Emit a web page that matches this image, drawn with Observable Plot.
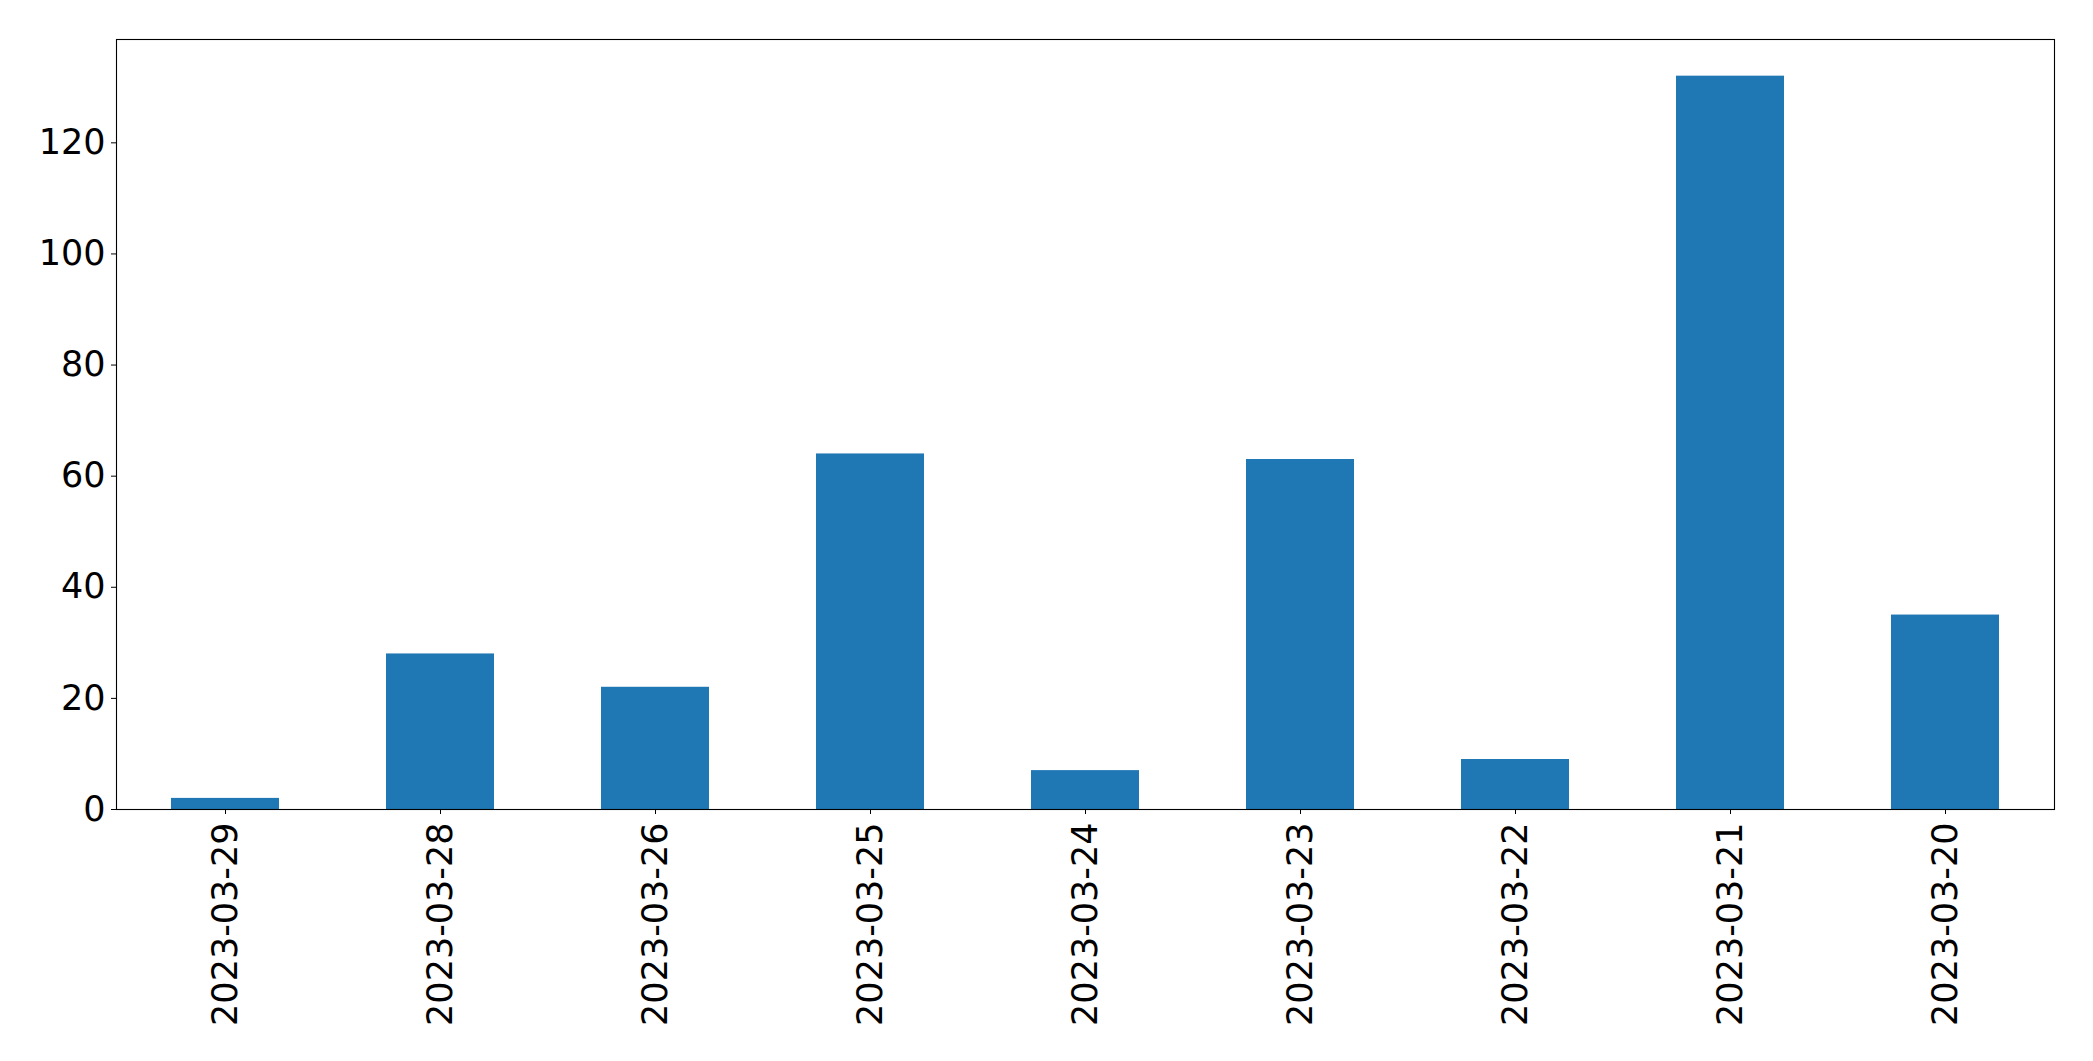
<!DOCTYPE html>
<html>
<head>
<meta charset="utf-8">
<script src="https://cdn.jsdelivr.net/npm/d3@7"></script>
<script src="https://cdn.jsdelivr.net/npm/@observablehq/plot@0.6"></script>
<style>
  html, body { margin: 0; padding: 0; background: #fff; }
  #chart svg { display: block; }
</style>
</head>
<body>
<div id="chart"></div>
<script>
const dates = ["2023-03-29", "2023-03-28", "2023-03-26", "2023-03-25", "2023-03-24", "2023-03-23", "2023-03-22", "2023-03-21", "2023-03-20"];
const counts = [2, 28, 22, 64, 7, 63, 9, 132, 35];
const yTicks = [0, 20, 40, 60, 80, 100, 120];

const data = dates.map((d, i) => ({date: d, count: counts[i]}));
const yMax = d3.max(counts) * 1.05;

const chart = Plot.plot({
  width: 2093,
  height: 1061,
  marginLeft: 116,
  marginRight: 39,
  marginTop: 39,
  marginBottom: 252,
  style: {fontFamily: "DejaVu Sans", fontSize: "35px", color: "#000", background: "#fff"},
  x: {domain: dates, paddingInner: 0.5, paddingOuter: 0.25, label: null},
  y: {domain: [0, yMax], label: null},
  marks: [
    Plot.barY(data, {x: "date", y: "count", fill: "#1f77b4"}),
    Plot.frame({stroke: "#000", strokeWidth: 1.1}),
    Plot.axisY({ticks: yTicks, tickSize: 5, tickPadding: 6, fontSize: 35, label: null, tickFormat: d => String(d)}),
    Plot.axisX({tickSize: 5, tickPadding: 8, tickRotate: -90, fontSize: 35, label: null})
  ]
});
document.getElementById("chart").appendChild(chart);
</script>
</body>
</html>
